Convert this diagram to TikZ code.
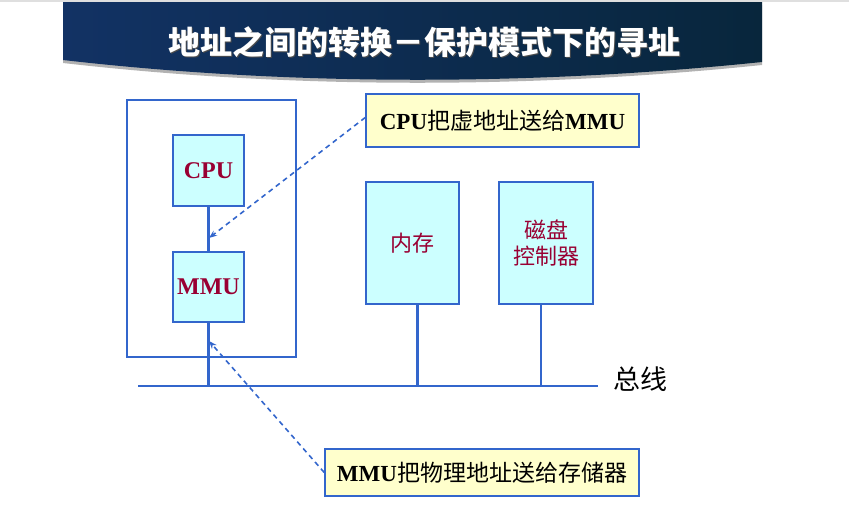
\documentclass[tikz,border=0pt]{standalone}
\usepackage{fontspec}
\setmainfont{Liberation Serif}
\newfontfamily\cjk{Noto Sans CJK SC}
\usepackage{xcolor}
\usetikzlibrary{arrows.meta, positioning}

\definecolor{boxblue}{RGB}{51,102,204}
\definecolor{boxcyan}{RGB}{204,255,255}
\definecolor{noteyellow}{RGB}{255,255,204}
\definecolor{darkred}{RGB}{153,0,51}
\definecolor{bannernavy}{RGB}{18,50,100}
\definecolor{bannerteal}{RGB}{28,135,160}
\definecolor{bannerend}{RGB}{8,38,60}

\tikzset{
  unit/.style={draw=boxblue, line width=2.6pt, fill=boxcyan, text=darkred, inner sep=0pt},
  note/.style={draw=boxblue, line width=1.5pt, fill=noteyellow, inner sep=0pt, font=\fontsize{23}{27}\selectfont},
  link/.style={draw=boxblue, line width=2.2pt},
  hint/.style={draw=boxblue, line width=1.6pt, dash pattern=on 5pt off 4pt, -{Stealth[length=8pt,width=6pt]}},
}

\begin{document}
\begin{tikzpicture}[x=1pt,y=-1pt]
				\useasboundingbox (0,0) rectangle (849,525);
				% title banner
				\fill[gray!25] (0,0) rectangle (849,2);
				\fill[gray!60, shift={(0,3)}] (63,2) -- (762,2) -- (762,62) .. controls (530,86) and (290,86) .. (63,60) -- cycle;
				\shade[left color=bannernavy, middle color=bannerteal, right color=bannerend] (63,2) -- (762,2) -- (762,62) .. controls (530,86) and (290,86) .. (63,60) -- cycle;
				\node[text=black!70, font=\cjk\bfseries\fontsize{32}{36}\selectfont] (titleshadow) at (425.5,43.5) {地址之间的转换－保护模式下的寻址};
				\node[text=white, font=\cjk\bfseries\fontsize{32}{36}\selectfont] (title) at (424,42) {地址之间的转换－保护模式下的寻址};
				% host box with cpu and mmu
				\node[draw=boxblue, line width=1.5pt, minimum width=169pt, minimum height=257pt] (host) at (211.5,228.5) {};
				\node[unit, minimum width=71pt, minimum height=71pt, font=\bfseries\fontsize{24}{28}\selectfont] (cpu) at (208.5,170.5) {CPU};
				\node[unit, minimum width=71pt, minimum height=70pt, font=\bfseries\fontsize{24}{28}\selectfont] (mmu) at (208.5,287) {MMU};
				\node[unit, minimum width=93pt, minimum height=122pt, font=\cjk\fontsize{22}{26}\selectfont] (mem) at (412.5,243) {内存};
				\node[unit, minimum width=94pt, minimum height=122pt, align=center, font=\cjk\fontsize{22}{26}\selectfont] (disk) at (546,243) {磁盘\\控制器};
				% bus
				\coordinate (busL) at (138,386);
				\coordinate (busR) at (598,386);
				\draw[link, line width=2.6pt] (busL) -- (busR);
				\node[anchor=west, font=\cjk\fontsize{27}{30}\selectfont] (buslabel) at (610,379) {总线};
				\draw[link] (cpu) -- (mmu);
				\draw[link] (mmu.south) -- (mmu.south |- busL);
				\draw[link] ([xshift=5pt]mem.south) -- ([xshift=5pt]mem.south |- busL);
				\draw[link] ([xshift=-5pt]disk.south) -- ([xshift=-5pt]disk.south |- busL);
				% notes
				\node[note, minimum width=273pt, minimum height=53pt] (note1) at (502.5,120.5) {\textbf{CPU}{\cjk 把虚地址送给}\textbf{MMU}};
				\node[note, minimum width=314pt, minimum height=47pt] (note2) at (482,472.5) {\textbf{MMU}{\cjk 把物理地址送给存储器}};
				\coordinate (tip1) at (209,238);
				\coordinate (tip2) at (209,341);
				\draw[hint] ([yshift=3pt]note1.west) -- (tip1);
				\draw[hint] (note2.west) -- (tip2);
			\end{tikzpicture}
\end{document}
